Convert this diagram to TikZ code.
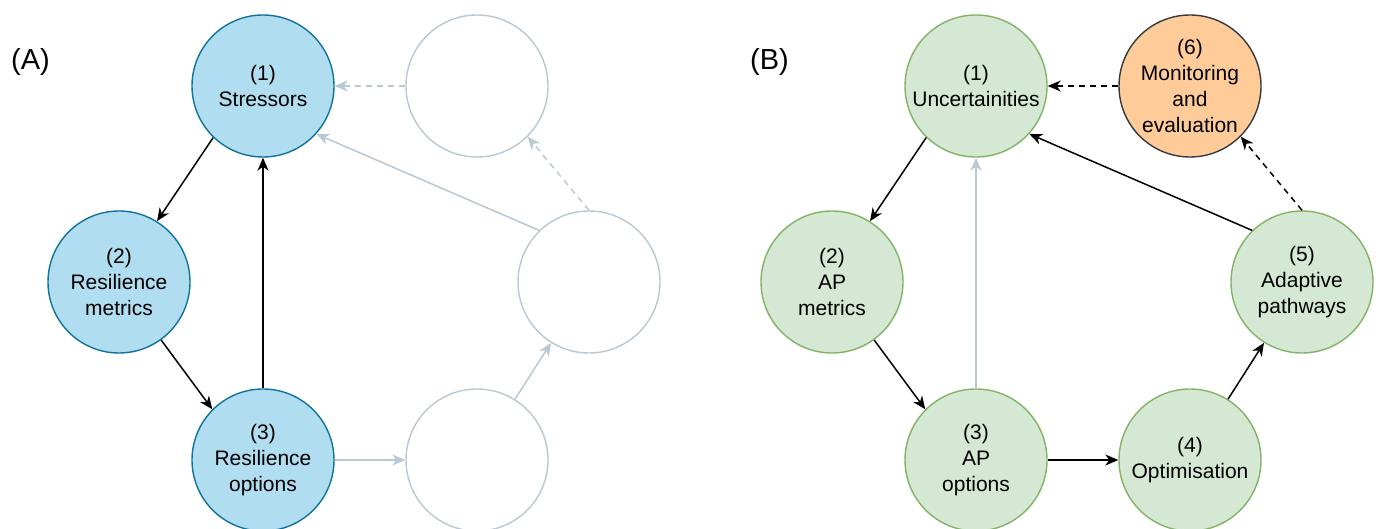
\documentclass[tikz,border=0pt]{standalone}
\usepackage{fontspec}
\setmainfont{Liberation Sans}
\usetikzlibrary{arrows.meta}
\definecolor{blueF}{HTML}{B1DDF0}
\definecolor{blueD}{HTML}{10739E}
\definecolor{greenF}{HTML}{D5E8D4}
\definecolor{greenD}{HTML}{82B366}
\definecolor{orangeF}{HTML}{FFCC99}
\definecolor{orangeD}{HTML}{36393D}
\definecolor{ghost}{HTML}{BAC8D3}
\tikzset{
  circ/.style={circle, minimum size=142pt, inner sep=0pt, line width=1.4pt, align=center, font=\fontsize{21}{26}\selectfont},
  bluec/.style={circ, draw=blueD, fill=blueF},
  greenc/.style={circ, draw=greenD, fill=greenF},
  orangec/.style={circ, draw=orangeD, fill=orangeF},
  ghostc/.style={circ, draw=ghost, fill=white},
  conn/.style={line width=1.5pt, -{Stealth[length=13pt,width=11pt,inset=4pt]}},
  dark/.style={conn, draw=black},
  faint/.style={conn, draw=ghost},
  dashedconn/.style={dash pattern=on 6pt off 5pt},
  panel/.style={font=\fontsize{29}{34}\selectfont, anchor=base west, inner sep=0pt}
}
\begin{document}
\begin{tikzpicture}[x=1pt,y=-1pt]
\useasboundingbox (0,0) rectangle (1381,529);
% Panel A
\node[panel] (labA) at (11,70) {(A)};
\node[bluec] (a1) at (263,86) {(1)\\Stressors};
\node[bluec] (a2) at (119,282) {(2)\\Resilience\\metrics};
\node[bluec] (a3) at (263,460) {(3)\\Resilience\\options};
\node[ghostc] (a4) at (477,460) {};
\node[ghostc] (a5) at (589,282) {};
\node[ghostc] (a6) at (477,86) {};
\draw[dark] (a1.226) -- (a2.58);
\draw[dark] (a2.306) -- (a3.135);
\draw[dark] (a3.north) -- (a1.south);
\draw[faint] (a3.east) -- (a4.west);
\draw[faint] (a4.58) -- (a5.238);
\draw[faint] (a5.134) -- (a1.318);
\draw[faint,dashedconn] (a5.north) -- (a6.315);
\draw[faint,dashedconn] (a6.west) -- (a1.east);
% Panel B
\node[panel] (labB) at (750,70) {(B)};
\node[greenc] (b1) at (976,86) {(1)\\Uncertainities};
\node[greenc] (b2) at (832,282) {(2)\\AP\\metrics};
\node[greenc] (b3) at (976,460) {(3)\\AP\\options};
\node[greenc] (b4) at (1190,460) {(4)\\Optimisation};
\node[greenc] (b5) at (1302,282) {(5)\\Adaptive\\pathways};
\node[orangec] (b6) at (1190,86) {(6)\\Monitoring\\and\\evaluation};
\draw[dark] (b1.226) -- (b2.58);
\draw[dark] (b2.306) -- (b3.135);
\draw[faint] (b3.north) -- (b1.south);
\draw[dark] (b3.east) -- (b4.west);
\draw[dark] (b4.58) -- (b5.238);
\draw[dark] (b5.134) -- (b1.318);
\draw[dark,dashedconn] (b5.north) -- (b6.315);
\draw[dark,dashedconn] (b6.west) -- (b1.east);
\end{tikzpicture}
\end{document}
